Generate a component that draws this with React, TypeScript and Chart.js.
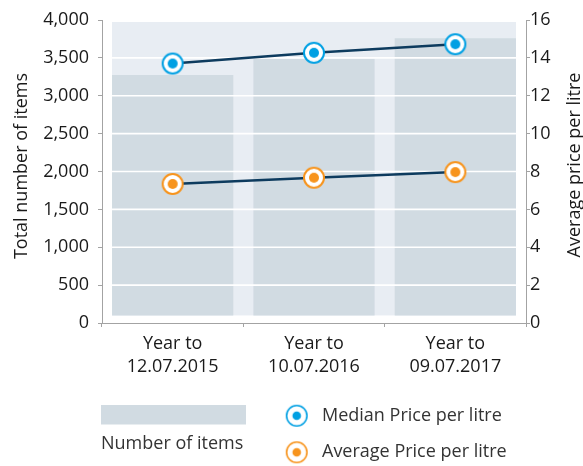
import React, { useEffect, useRef } from "react";
import { Chart, registerables } from "chart.js";

Chart.register(...registerables);

// ---- data ----
const periodPrefix = "Year to";
const periodEnds = ["12.07.2015", "10.07.2016", "09.07.2017"];
const numberOfItems = [3275, 3490, 3760];
const medianPrice = [13.7, 14.27, 14.72];
const averagePrice = [7.34, 7.67, 7.97];
const seriesLabels = ["Number of items", "Median Price per litre", "Average Price per litre"];
const leftAxisTitle = "Total number of items";
const rightAxisTitle = "Average price per litre";
const leftMax = 4000;
const leftStep = 500;
const rightMax = 16;
const rightStep = 2;

// ---- styles ----
const FONT = "'Open Sans', 'Noto Sans', sans-serif";
const barColor = "#d1dbe2";
const panelColor = "#e8edf3";
const lineColor = "#0d3b5e";
const blue = "#00a0e3";
const orange = "#f7941d";
const axisColor = "#a3a3a3";
const tickText = "#1a1a1a";
const legendText = "#333333";

function makeMarker(color: string, ringWidth: number, outerR: number, dotR: number) {
  const size = Math.ceil(outerR * 2 + 2);
  const c = document.createElement("canvas");
  c.width = size;
  c.height = size;
  const ctx = c.getContext("2d")!;
  const cx = size / 2;
  ctx.beginPath();
  ctx.arc(cx, cx, outerR - ringWidth / 2, 0, Math.PI * 2);
  ctx.fillStyle = "#ffffff";
  ctx.fill();
  ctx.lineWidth = ringWidth;
  ctx.strokeStyle = color;
  ctx.stroke();
  ctx.beginPath();
  ctx.arc(cx, cx, dotR, 0, Math.PI * 2);
  ctx.fillStyle = color;
  ctx.fill();
  return c;
}

export default function App() {
  const ref = useRef<HTMLCanvasElement>(null);

  useEffect(() => {
    document.body.style.margin = "0";
    const canvas = ref.current;
    if (!canvas) return;

    const blueMarker = makeMarker(blue, 2, 11, 5);
    const orangeMarker = makeMarker(orange, 2, 11, 5);
    const blueLegend = makeMarker(blue, 1.6, 11, 4.3);
    const orangeLegend = makeMarker(orange, 1.6, 11, 4.3);

    const decor = {
      id: "decor",
      beforeDatasetsDraw(chart: any) {
        const meta = chart.getDatasetMeta(0);
        const bars = meta.data;
        if (!bars.length) return;
        const f = bars[0].getProps(["x", "width", "base"], true);
        const l = bars[bars.length - 1].getProps(["x", "width"], true);
        const left = f.x - f.width / 2;
        const right = l.x + l.width / 2;
        const top = chart.chartArea.top + 2;
        const bottom = f.base;
        const ctx = chart.ctx;
        ctx.save();
        ctx.fillStyle = panelColor;
        ctx.fillRect(left, top, right - left, bottom - top);
        ctx.restore();
      },
      afterDatasetDraw(chart: any, args: any) {
        if (args.meta.type !== "bar") return;
        const bars = args.meta.data;
        const f = bars[0].getProps(["x", "width"], true);
        const l = bars[bars.length - 1].getProps(["x", "width"], true);
        const left = f.x - f.width / 2;
        const right = l.x + l.width / 2;
        const y = chart.scales.y;
        const ctx = chart.ctx;
        ctx.save();
        ctx.strokeStyle = "#ffffff";
        ctx.lineWidth = 1.6;
        y.ticks.forEach((t: any) => {
          if (t.value <= 0) return;
          const py = y.getPixelForValue(t.value);
          ctx.beginPath();
          ctx.moveTo(left, py);
          ctx.lineTo(right, py);
          ctx.stroke();
        });
        ctx.restore();
      },
      afterDraw(chart: any) {
        const ctx = chart.ctx;
        const ds = chart.data.datasets;
        ctx.save();
        // axis titles
        ctx.fillStyle = tickText;
        ctx.font = `18px ${FONT}`;
        ctx.textAlign = "center";
        ctx.textBaseline = "alphabetic";
        ctx.save();
        ctx.translate(26.5, 166);
        ctx.rotate(-Math.PI / 2);
        ctx.fillText(leftAxisTitle, 0, 0);
        ctx.restore();
        ctx.save();
        ctx.translate(580, 165);
        ctx.rotate(-Math.PI / 2);
        ctx.fillText(rightAxisTitle, 0, 0);
        ctx.restore();

        // legend
        ctx.fillStyle = barColor;
        ctx.fillRect(101, 405, 145, 19.5);
        ctx.fillStyle = legendText;
        ctx.textAlign = "left";
        ctx.textBaseline = "middle";
        ctx.fillText(ds[0].label, 101, 444);
        ctx.drawImage(blueLegend, 296.7 - blueLegend.width / 2, 415.7 - blueLegend.height / 2);
        ctx.fillText(ds[1].label, 322, 416);
        ctx.drawImage(orangeLegend, 296.7 - orangeLegend.width / 2, 452.3 - orangeLegend.height / 2);
        ctx.fillText(ds[2].label, 322, 452);
        ctx.restore();
      },
    };

    const chart = new Chart(canvas, {
      type: "bar",
      data: {
        labels: periodEnds.map((d) => [periodPrefix, d]),
        datasets: [
          {
            type: "bar",
            label: seriesLabels[0],
            data: numberOfItems,
            yAxisID: "y",
            backgroundColor: barColor,
            borderWidth: 0,
            base: 100,
            barPercentage: 1,
            categoryPercentage: 0.858,
            order: 2,
          } as any,
          {
            type: "line",
            label: seriesLabels[1],
            data: medianPrice,
            yAxisID: "y1",
            borderColor: lineColor,
            borderWidth: 2.5,
            pointStyle: blueMarker,
            pointRadius: 11,
            order: 1,
          } as any,
          {
            type: "line",
            label: seriesLabels[2],
            data: averagePrice,
            yAxisID: "y1",
            borderColor: lineColor,
            borderWidth: 2.5,
            pointStyle: orangeMarker,
            pointRadius: 11,
            order: 1,
          } as any,
        ],
      },
      options: {
        responsive: false,
        animation: false,
        layout: { padding: { top: 20, left: 0, right: 0, bottom: 0 } },
        font: { family: FONT },
        plugins: {
          legend: { display: false },
          tooltip: { enabled: false },
        },
        scales: {
          x: {
            offset: true,
            grid: { drawOnChartArea: false, drawTicks: true, tickLength: 4, tickColor: axisColor, offset: true },
            border: { color: axisColor, width: 1 },
            ticks: {
              color: tickText,
              font: { family: FONT, size: 18, lineHeight: 1.28 },
              padding: 5,
              maxRotation: 0,
              autoSkip: false,
            },
            afterFit: (s: any) => {
              s.height = 143;
            },
          },
          y: {
            position: "left",
            min: 0,
            max: leftMax,
            grid: { drawOnChartArea: false, tickLength: 4, tickColor: axisColor },
            border: { color: axisColor, width: 1 },
            ticks: {
              stepSize: leftStep,
              color: tickText,
              font: { family: FONT, size: 18 },
              padding: 9,
              callback: (v: any) => Number(v).toLocaleString("en-US"),
            },
            afterFit: (s: any) => {
              s.width = 102;
            },
          },
          y1: {
            position: "right",
            min: 0,
            max: rightMax,
            grid: { drawOnChartArea: false, tickLength: 4, tickColor: axisColor },
            border: { color: axisColor, width: 1 },
            ticks: {
              stepSize: rightStep,
              color: tickText,
              font: { family: FONT, size: 18 },
              padding: 0,
            },
            afterFit: (s: any) => {
              s.width = 57;
            },
          },
        },
      } as any,
      plugins: [decor],
    });

    return () => chart.destroy();
  }, []);

  return (
    <div style={{ position: "absolute", left: 0, top: 0, width: 583, height: 466 }}>
      <canvas ref={ref} width={583} height={466} style={{ display: "block", width: 583, height: 466 }} />
    </div>
  );
}
